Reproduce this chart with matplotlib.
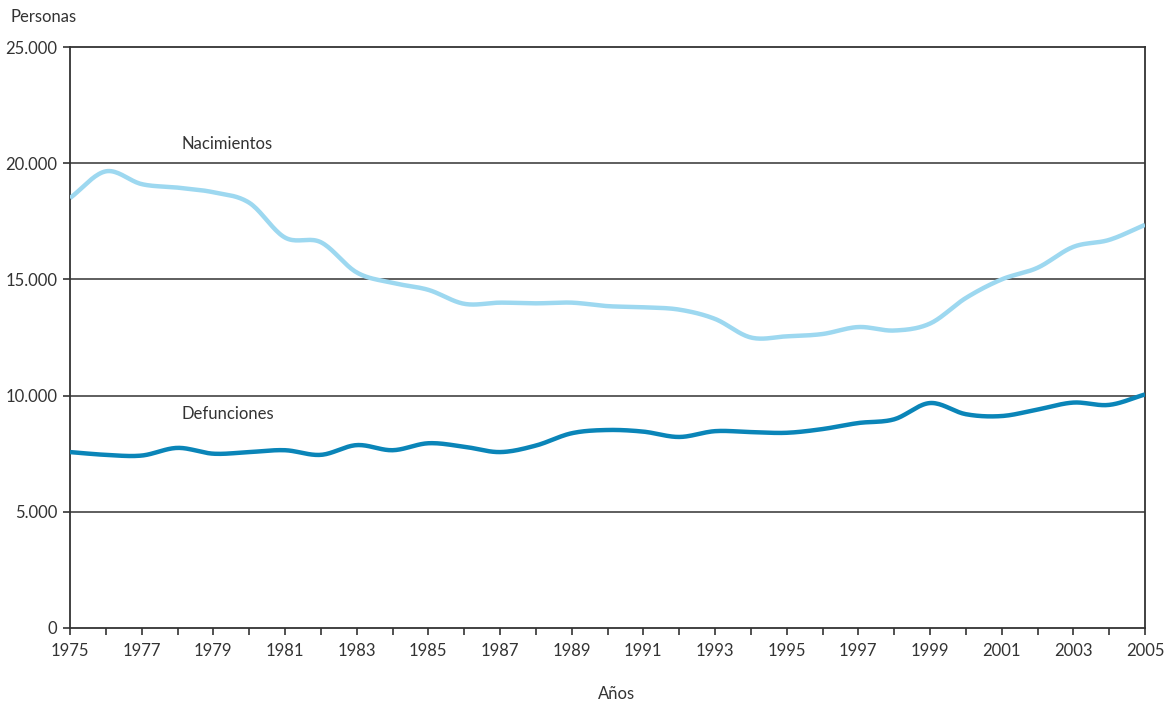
import numpy as np
import matplotlib.pyplot as plt

plt.rcParams['font.family'] = ['Lato', 'DejaVu Sans']

years = np.arange(1975, 2006)
nacimientos = [18500, 19650, 19100, 18950, 18750, 18300, 16800, 16600, 15300, 14850,
               14550, 13950, 14000, 13970, 14000, 13850, 13800, 13700, 13300, 12500,
               12550, 12650, 12950, 12800, 13100, 14200, 15000, 15500, 16400, 16700,
               17350]
defunciones = [7570, 7450, 7420, 7750, 7500, 7570, 7650, 7450, 7870, 7650,
               7950, 7800, 7570, 7850, 8380, 8520, 8450, 8220, 8470, 8430,
               8400, 8560, 8820, 8980, 9680, 9200, 9120, 9400, 9700, 9600,
               10050]


def smooth(x, y, n=20):
    # catmull-rom, just to draw the curve smoothly like the original
    x = np.asarray(x, float)
    y = np.asarray(y, float)
    px = np.concatenate([[2 * x[0] - x[1]], x, [2 * x[-1] - x[-2]]])
    py = np.concatenate([[2 * y[0] - y[1]], y, [2 * y[-1] - y[-2]]])
    xs, ys = [], []
    t = np.linspace(0, 1, n, endpoint=False)
    for i in range(1, len(px) - 2):
        for p, out in ((px, xs), (py, ys)):
            p0, p1, p2, p3 = p[i - 1], p[i], p[i + 1], p[i + 2]
            out.append(0.5 * (2 * p1 + (-p0 + p2) * t + (2 * p0 - 5 * p1 + 4 * p2 - p3) * t ** 2
                              + (-p0 + 3 * p1 - 3 * p2 + p3) * t ** 3))
    xs.append([x[-1]])
    ys.append([y[-1]])
    return np.concatenate(xs), np.concatenate(ys)


fig = plt.figure(figsize=(11.72, 7.07), dpi=100)
ax = fig.add_axes([70 / 1172, 1 - 628 / 707, 1075 / 1172, 581 / 707])

for v in [5000, 10000, 15000, 20000]:
    ax.axhline(v, color='#333333', lw=1.1, zorder=1)

sx, sy = smooth(years, nacimientos)
ax.plot(sx, sy, color='#9dd8f0', lw=3.2, solid_capstyle='butt', zorder=3)
sx, sy = smooth(years, defunciones)
ax.plot(sx, sy, color='#0a85b8', lw=3.2, solid_capstyle='butt', zorder=3)

ax.set_xlim(1975, 2005)
ax.set_ylim(0, 25000)
ax.set_xticks(np.arange(1975, 2006, 2))
ax.set_xticks(np.arange(1975, 2006, 1), minor=True)
ax.set_yticks(np.arange(0, 25001, 5000))
ax.set_yticklabels(['0', '5.000', '10.000', '15.000', '20.000', '25.000'])

for s in ax.spines.values():
    s.set_color('#333333')
    s.set_linewidth(1.3)

ax.tick_params(axis='both', labelsize=12, colors='#333333', length=5, width=1.2)
ax.tick_params(axis='x', which='minor', length=5, width=1.2, color='#333333')
ax.tick_params(axis='x', pad=6)
ax.tick_params(axis='y', pad=4)

ax.text(1978.1, 20600, 'Nacimientos', fontsize=12, color='#333333')
ax.text(1978.1, 9000, 'Defunciones', fontsize=12, color='#333333')
fig.text(10 / 1172, 1 - 17 / 707, 'Personas', fontsize=12, color='#333333', va='center')
fig.text(617 / 1172, 1 - 694 / 707, 'Años', fontsize=12, color='#333333', ha='center', va='center')

fig.savefig('out.png', dpi=100)
